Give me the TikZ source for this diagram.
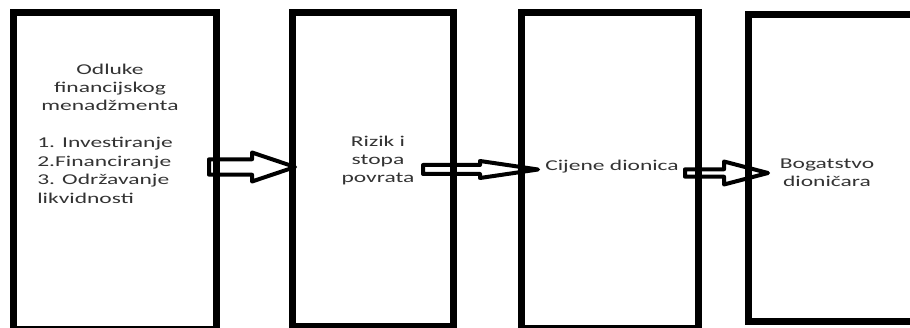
\documentclass[tikz,border=0pt]{standalone}
\usepackage{fontspec}
\setmainfont{Carlito}
\usepackage{tikz}
\usetikzlibrary{positioning, calc}
\newcommand{\diagfont}{\fontsize{15pt}{18.4pt}\selectfont}

\begin{document}
\begin{tikzpicture}[x=1pt, y=1pt,
    bigbox/.style={rectangle, draw=black, line width=7pt, outer sep=0pt, inner sep=0pt},
    boxtext/.style={inner sep=0pt, text=black!80, font=\diagfont, xscale=1.567, transform shape},
    blockarrow/.style n args={3}{draw=black, line width=4pt, line join=round,
        to path={let \p1=(\tikztostart), \p2=(\tikztotarget) in
            (\x1,\y1+#1) -- (\x2-#3,\y1+#1) -- (\x2-#3,\y1+#2) -- (\x2,\y1)
            -- (\x2-#3,\y1-#2) -- (\x2-#3,\y1-#1) -- (\x1,\y1-#1) -- cycle}}
]
\useasboundingbox (0,0) rectangle (910,327);
\clip (0,0) rectangle (910,327);

% boxes
\node[bigbox, minimum width=202.5pt, minimum height=316pt, anchor=north west](odluke) at (13.5,314){};
\node[bigbox, minimum width=161pt, minimum height=313.5pt](rizik)[right = 76pt of odluke.north east, anchor=north west]{};
\node[bigbox, minimum width=177pt, minimum height=315.5pt](cijene)[right = 68pt of rizik.north east, anchor=north west]{};
\node[bigbox, minimum width=190pt, minimum height=306pt](bogatstvo)[right = 50pt of cijene.north east, yshift=-2pt, anchor=north west]{};

% arrows
\coordinate (a1s) at ($(odluke.east)+(-7,4)$);
\coordinate (a1e) at ($(rizik.west)+(3,2.75)$);
\coordinate (a2s) at ($(rizik.east)+(-30,0.25)$);
\coordinate (a2e) at ($(cijene.west)+(17,1.25)$);
\coordinate (a3s) at ($(cijene.east)+(-13,-2.25)$);
\coordinate (a3e) at ($(bogatstvo.west)+(20,-6)$);
\draw[blockarrow={7.7pt}{14.5pt}{43pt}] (a1s) to (a1e);
\draw[blockarrow={4.5pt}{8.5pt}{58pt}] (a2s) to (a2e);
\draw[blockarrow={3.7pt}{11.5pt}{44pt}] (a3s) to (a3e);

% texts
\node[boxtext, align=center, anchor=base](odlukehead) at (110,216){Odluke\\financijskog\\menadžmenta};
\node[boxtext, align=left, anchor=base west](odlukelist) at (37,124){1. Investiranje\\2.Financiranje\\3. Održavanje\\likvidnosti};
\node[boxtext, align=center, anchor=base](riziktext) at (378,144){Rizik i\\stopa\\povrata};
\node[boxtext, anchor=base west](cijenetext) at (545,156.5){Cijene dionica};
\node[boxtext, align=center, anchor=base](bogatstvotext) at (827,140){Bogatstvo\\dioničara};
\end{tikzpicture}
\end{document}
